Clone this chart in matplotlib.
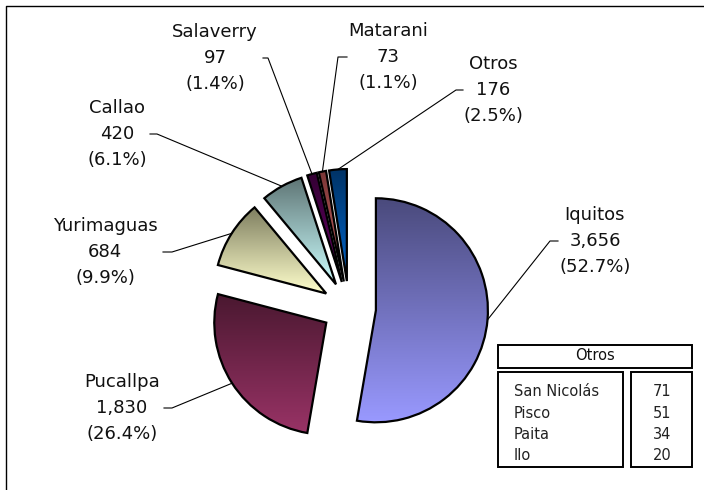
import numpy as np
import matplotlib
matplotlib.use("Agg")
import matplotlib.pyplot as plt
from matplotlib.colors import LinearSegmentedColormap
from matplotlib.patches import Rectangle

# datos principales
puertos = ["Iquitos", "Pucallpa", "Yurimaguas", "Callao", "Salaverry", "Matarani", "Otros"]
valores = [3656, 1830, 684, 420, 97, 73, 176]

# detalle de "Otros"
otros_nombres = ["San Nicolás", "Pisco", "Paita", "Ilo"]
otros_valores = [71, 51, 34, 20]

# degradado: color arriba (oscuro) -> color abajo (claro)
colores = [("#4a4a7c", "#9999ff"),
           ("#4a1830", "#993366"),
           ("#7c7c5e", "#ffffcc"),
           ("#5e7474", "#ccffff"),
           ("#330033", "#660066"),
           ("#7a3636", "#cc6666"),
           ("#003366", "#0066cc")]

# posicion de etiquetas en pixeles (centro x, linea media y) y la raya horizontal
etiq_pos = [(595, 241), (122, 408), (105, 252), (117, 134), (215, 58), (388, 57), (493, 90)]
raya_x = [(558, 550), (164, 172), (163, 172), (150, 157), (263, 268), (347, 338), (463, 456)]

W, H = 704, 490
fig = plt.figure(figsize=(W / 100, H / 100), dpi=100)
ax = fig.add_axes([0, 0, 1, 1])

total = sum(valores)
cx, cy, r = 349, H - 308, 112
# explode en pie va en unidades de datos (no fraccion del radio)
wedges, _ = ax.pie(valores, startangle=90, counterclock=False, radius=r,
                   center=(cx, cy), explode=[27] * len(valores),
                   wedgeprops=dict(edgecolor="black", linewidth=1.6))

for w, (c_top, c_bot) in zip(wedges, colores):
    w.set_facecolor("none")
    w.set_zorder(3)
    ext = w.get_path().get_extents()
    cmap = LinearSegmentedColormap.from_list("g", [c_bot, c_top])
    grad = np.linspace(0, 1, 256).reshape(-1, 1)
    im = ax.imshow(grad, cmap=cmap, origin="lower", aspect="auto",
                   extent=[ext.x0, ext.x1, ext.y0, ext.y1], zorder=2)
    im.set_clip_path(w)

# etiquetas con lineas guia
for w, nombre, v, (tx, ty), (x_ext, x_int) in zip(wedges, puertos, valores, etiq_pos, raya_x):
    ang = np.deg2rad((w.theta1 + w.theta2) / 2)
    px = w.center[0] + w.r * np.cos(ang)
    py = w.center[1] + w.r * np.sin(ang)
    ax.plot([x_ext, x_int, px], [H - ty, H - ty, py], color="black", lw=0.8, zorder=4)
    txt = f"{nombre}\n{v:,}\n({v / total * 100:.1f}%)"
    ax.text(tx, H - ty, txt, ha="center", va="center", fontsize=13,
            linespacing=1.55, color="#111111", zorder=5)

# tabla de "Otros"
for (x0, y0, x1, y1) in [(498, 345, 692, 368), (498, 372, 623, 467), (631, 372, 692, 467)]:
    ax.add_patch(Rectangle((x0, H - y1), x1 - x0, y1 - y0, fill=False,
                           edgecolor="black", linewidth=1.4, zorder=4))
ax.text(595, H - 356, "Otros", ha="center", va="center", fontsize=10.5, color="#111111")
for i, (n, v) in enumerate(zip(otros_nombres, otros_valores)):
    yy = H - (392 + 21 * i)
    ax.text(514, yy, n, ha="left", va="center", fontsize=10.5, color="#222222")
    ax.text(662, yy, str(v), ha="center", va="center", fontsize=10.5, color="#222222")

# borde
ax.plot([6, 6, W], [0, H - 6, H - 6], color="black", lw=1.0, zorder=6)

ax.set_xlim(0, W)
ax.set_ylim(0, H)
ax.axis("off")
fig.savefig("out.png", dpi=100)
